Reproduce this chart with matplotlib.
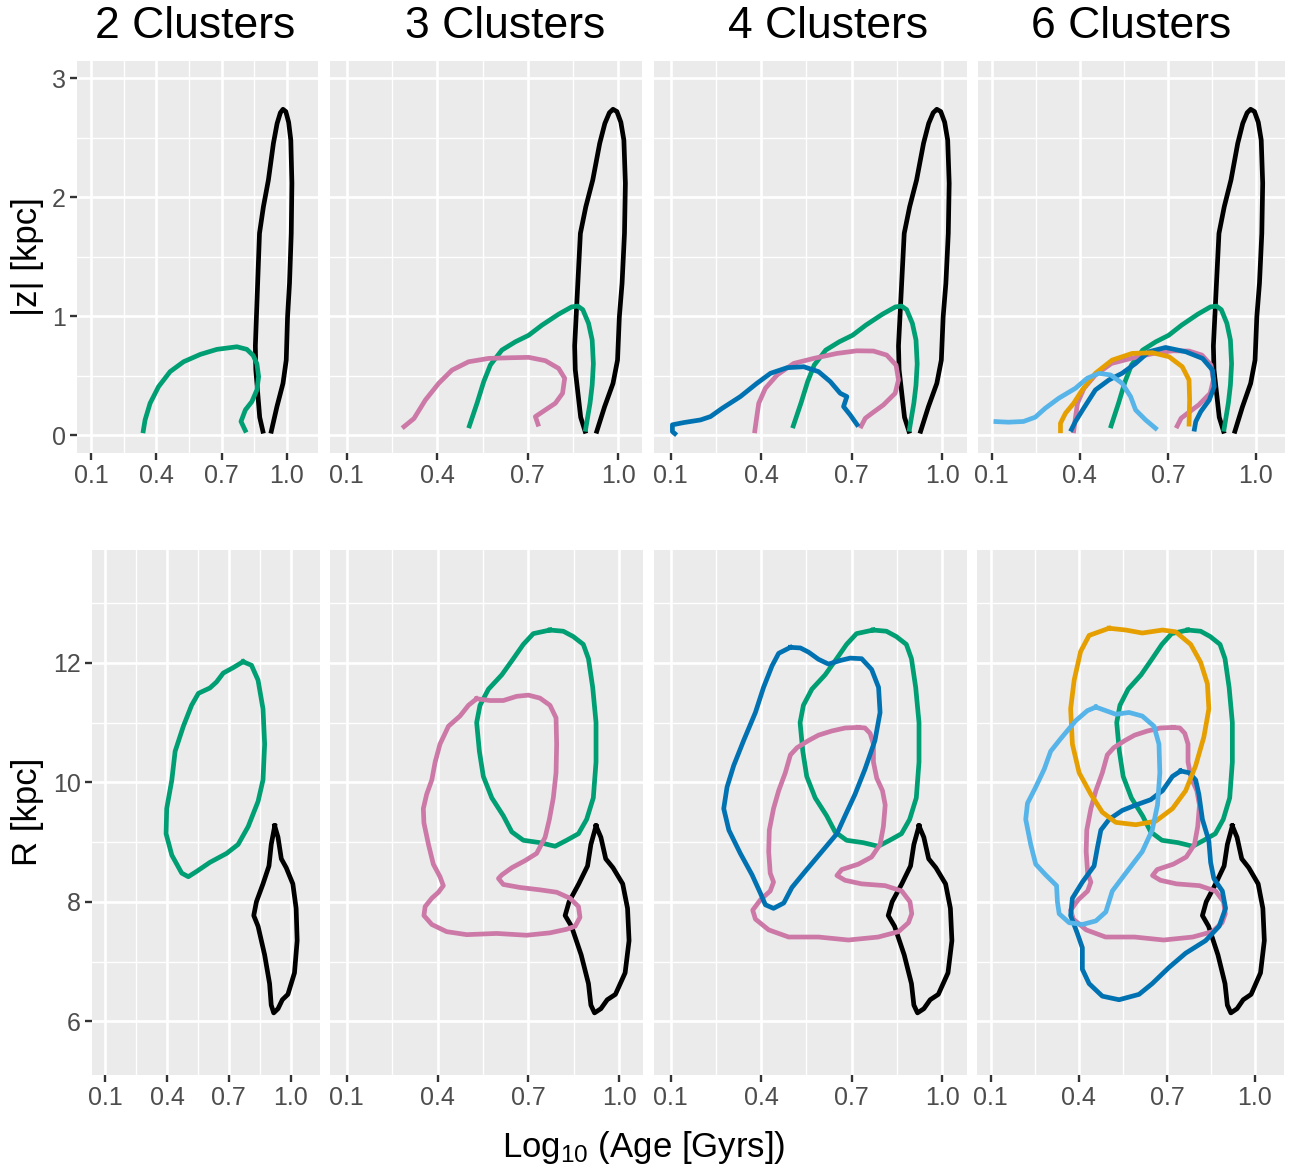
import matplotlib
matplotlib.use('Agg')
import matplotlib.pyplot as plt

plt.rcParams['font.family'] = ['Liberation Sans', 'DejaVu Sans']
plt.rcParams['mathtext.fontset'] = 'custom'
plt.rcParams['mathtext.rm'] = 'Liberation Sans'
plt.rcParams['mathtext.it'] = 'Liberation Sans:italic'

# ---- data: contour outlines, (log10 age, value) ----
titles = ['2 Clusters', '3 Clusters', '4 Clusters', '6 Clusters']
x_ticks = [0.1, 0.4, 0.7, 1.0]
x_tick_labels = ['0.1', '0.4', '0.7', '1.0']
z_ticks = [0, 1, 2, 3]
r_ticks = [6, 8, 10, 12]

colors = {'black': '#000000', 'green': '#009E73', 'pink': '#CC79A7',
          'blue': '#0072B2', 'orange': '#E69F00', 'sky': '#56B4E9'}

# |z| contours (open, cut at z=0)
z_black = [(0.892, 0.014), (0.875, 0.15), (0.866, 0.35), (0.857, 0.55), (0.855, 0.75),
           (0.860, 1.0), (0.866, 1.3), (0.874, 1.696), (0.892, 1.92), (0.915, 2.145),
           (0.938, 2.453), (0.955, 2.62), (0.970, 2.71), (0.982, 2.739), (0.995, 2.72),
           (1.008, 2.63), (1.018, 2.48), (1.023, 2.117), (1.020, 1.696), (1.012, 1.276),
           (1.003, 0.995), (0.997, 0.631), (0.982, 0.435), (0.954, 0.238), (0.926, 0.014)]
z_green_2 = [(0.338, 0.017), (0.348, 0.128), (0.371, 0.268), (0.410, 0.408), (0.463, 0.534),
             (0.525, 0.617), (0.602, 0.679), (0.678, 0.721), (0.770, 0.743), (0.816, 0.721),
             (0.845, 0.67), (0.862, 0.60), (0.870, 0.492), (0.862, 0.38), (0.839, 0.282),
             (0.809, 0.212), (0.789, 0.115), (0.813, 0.022)]
z_green = [(0.504, 0.059), (0.532, 0.27), (0.554, 0.45), (0.576, 0.59), (0.614, 0.715),
           (0.659, 0.785), (0.703, 0.84), (0.747, 0.925), (0.802, 1.017), (0.845, 1.078),
           (0.865, 1.085), (0.882, 1.055), (0.901, 0.94), (0.913, 0.80), (0.917, 0.60),
           (0.913, 0.42), (0.906, 0.27), (0.890, 0.03)]
z_pink_3 = [(0.284, 0.059), (0.323, 0.14), (0.361, 0.296), (0.405, 0.436), (0.449, 0.547),
            (0.504, 0.617), (0.570, 0.645), (0.648, 0.651), (0.703, 0.654), (0.758, 0.626),
            (0.802, 0.561), (0.822, 0.478), (0.815, 0.352), (0.791, 0.268), (0.758, 0.212),
            (0.725, 0.156), (0.736, 0.073)]
z_pink = [(0.378, 0.017), (0.384, 0.128), (0.392, 0.268), (0.414, 0.394), (0.453, 0.506),
          (0.508, 0.603), (0.574, 0.645), (0.651, 0.687), (0.717, 0.709), (0.772, 0.707),
          (0.816, 0.673), (0.847, 0.589), (0.855, 0.464), (0.844, 0.352), (0.805, 0.254),
          (0.767, 0.184), (0.745, 0.142), (0.728, 0.059)]
z_blue_4 = [(0.120, 0.0), (0.106, 0.03), (0.106, 0.087), (0.144, 0.106), (0.199, 0.128),
            (0.232, 0.156), (0.271, 0.226), (0.331, 0.324), (0.386, 0.436), (0.431, 0.520),
            (0.486, 0.567), (0.541, 0.575), (0.590, 0.534), (0.629, 0.450), (0.662, 0.352),
            (0.684, 0.324), (0.673, 0.240), (0.695, 0.170), (0.722, 0.073)]
z_blue = [(0.368, 0.031), (0.385, 0.115), (0.413, 0.226), (0.453, 0.380), (0.499, 0.464),
          (0.544, 0.520), (0.590, 0.603), (0.635, 0.701), (0.692, 0.737), (0.761, 0.701),
          (0.818, 0.645), (0.852, 0.547), (0.858, 0.408), (0.841, 0.296), (0.812, 0.198),
          (0.795, 0.115), (0.789, 0.031)]
z_orange = [(0.334, 0.017), (0.334, 0.100), (0.351, 0.184), (0.379, 0.268), (0.408, 0.380),
            (0.453, 0.520), (0.510, 0.631), (0.578, 0.687), (0.647, 0.693), (0.704, 0.659),
            (0.749, 0.575), (0.772, 0.464), (0.774, 0.296), (0.772, 0.073)]
z_sky = [(0.106, 0.115), (0.157, 0.109), (0.208, 0.115), (0.248, 0.151), (0.282, 0.226),
         (0.328, 0.310), (0.385, 0.394), (0.425, 0.478), (0.465, 0.520), (0.505, 0.506),
         (0.544, 0.436), (0.573, 0.324), (0.590, 0.212), (0.624, 0.128), (0.664, 0.045)]

# R contours (closed)
r_black = [(0.923, 9.27), (0.939, 9.08), (0.955, 8.72), (0.979, 8.57), (1.011, 8.30),
           (1.027, 7.89), (1.032, 7.35), (1.019, 6.81), (0.987, 6.45), (0.960, 6.36),
           (0.939, 6.21), (0.918, 6.14), (0.906, 6.27), (0.898, 6.63), (0.874, 7.11),
           (0.842, 7.59), (0.821, 7.77), (0.834, 8.00), (0.866, 8.30), (0.895, 8.60),
           (0.906, 8.96)]
r_green_2 = [(0.769, 12.02), (0.721, 11.92), (0.673, 11.83), (0.640, 11.68), (0.608, 11.58),
             (0.552, 11.49), (0.519, 11.29), (0.479, 10.94), (0.439, 10.52), (0.423, 10.04),
             (0.398, 9.56), (0.395, 9.14), (0.423, 8.78), (0.471, 8.48), (0.503, 8.42),
             (0.544, 8.51), (0.608, 8.66), (0.689, 8.81), (0.745, 8.96), (0.794, 9.26),
             (0.842, 9.68), (0.866, 10.04), (0.874, 10.64), (0.866, 11.23), (0.842, 11.71),
             (0.810, 11.96)]
r_green = [(0.771, 12.55), (0.716, 12.49), (0.683, 12.31), (0.650, 12.07), (0.612, 11.80),
           (0.568, 11.56), (0.540, 11.29), (0.529, 11.00), (0.538, 10.52), (0.551, 10.10),
           (0.579, 9.74), (0.617, 9.44), (0.645, 9.17), (0.683, 9.03), (0.738, 8.99),
           (0.788, 8.93), (0.826, 9.03), (0.865, 9.14), (0.892, 9.38), (0.914, 9.74),
           (0.923, 10.34), (0.923, 11.00), (0.912, 11.59), (0.898, 12.07), (0.881, 12.31),
           (0.848, 12.44), (0.815, 12.53)]
r_pink_3 = [(0.529, 11.40), (0.573, 11.37), (0.617, 11.37), (0.661, 11.44), (0.700, 11.46),
            (0.738, 11.41), (0.771, 11.29), (0.791, 11.08), (0.793, 10.64), (0.791, 10.16),
            (0.782, 9.74), (0.769, 9.38), (0.755, 9.08), (0.727, 8.81), (0.689, 8.69),
            (0.645, 8.57), (0.612, 8.45), (0.601, 8.39), (0.617, 8.29), (0.672, 8.24),
            (0.738, 8.20), (0.793, 8.16), (0.837, 8.06), (0.865, 7.92), (0.870, 7.74),
            (0.854, 7.59), (0.826, 7.54), (0.771, 7.48), (0.694, 7.44), (0.595, 7.47),
            (0.496, 7.45), (0.430, 7.50), (0.381, 7.62), (0.355, 7.77), (0.359, 7.92),
            (0.381, 8.06), (0.403, 8.16), (0.419, 8.27), (0.408, 8.42), (0.386, 8.63),
            (0.370, 8.96), (0.355, 9.32), (0.353, 9.56), (0.364, 9.80), (0.381, 10.04),
            (0.392, 10.34), (0.408, 10.64), (0.436, 10.94), (0.474, 11.11), (0.502, 11.29)]
r_pink = [(0.722, 10.92), (0.678, 10.91), (0.634, 10.86), (0.590, 10.79), (0.557, 10.70),
          (0.519, 10.58), (0.497, 10.46), (0.480, 10.16), (0.458, 9.86), (0.441, 9.56),
          (0.427, 9.20), (0.425, 8.84), (0.430, 8.48), (0.441, 8.33), (0.430, 8.18),
          (0.397, 8.03), (0.372, 7.86), (0.381, 7.71), (0.425, 7.53), (0.491, 7.41),
          (0.590, 7.41), (0.689, 7.36), (0.788, 7.41), (0.855, 7.50), (0.888, 7.65),
          (0.899, 7.80), (0.893, 8.00), (0.866, 8.18), (0.811, 8.27), (0.733, 8.30),
          (0.678, 8.36), (0.651, 8.44), (0.667, 8.54), (0.722, 8.63), (0.766, 8.75),
          (0.794, 8.96), (0.805, 9.26), (0.811, 9.62), (0.802, 9.86), (0.783, 10.07),
          (0.772, 10.34), (0.772, 10.64), (0.761, 10.82), (0.744, 10.91)]
r_blue_4 = [(0.497, 12.26), (0.458, 12.16), (0.436, 11.95), (0.408, 11.59), (0.381, 11.17),
            (0.342, 10.70), (0.309, 10.28), (0.287, 9.92), (0.276, 9.56), (0.293, 9.20),
            (0.331, 8.81), (0.370, 8.45), (0.397, 8.15), (0.414, 7.95), (0.441, 7.89),
            (0.475, 7.98), (0.502, 8.24), (0.546, 8.51), (0.601, 8.84), (0.651, 9.14),
            (0.678, 9.44), (0.711, 9.80), (0.744, 10.22), (0.777, 10.70), (0.794, 11.17),
            (0.789, 11.59), (0.766, 11.89), (0.733, 12.07), (0.695, 12.08), (0.662, 12.04),
            (0.623, 11.98), (0.590, 12.06), (0.557, 12.18), (0.530, 12.25)]
r_blue = [(0.747, 10.19), (0.719, 10.10), (0.685, 9.86), (0.645, 9.71), (0.594, 9.62),
          (0.548, 9.53), (0.503, 9.38), (0.475, 9.20), (0.463, 8.90), (0.452, 8.60),
          (0.412, 8.33), (0.378, 8.06), (0.372, 7.77), (0.395, 7.47), (0.412, 7.23),
          (0.412, 6.87), (0.435, 6.63), (0.480, 6.42), (0.537, 6.36), (0.605, 6.45),
          (0.650, 6.63), (0.707, 6.90), (0.764, 7.14), (0.832, 7.35), (0.878, 7.59),
          (0.900, 7.89), (0.889, 8.18), (0.860, 8.39), (0.849, 8.66), (0.843, 9.02),
          (0.821, 9.38), (0.809, 9.80), (0.798, 10.04), (0.776, 10.16)]
r_orange = [(0.503, 12.58), (0.435, 12.46), (0.406, 12.19), (0.384, 11.71), (0.372, 11.23),
            (0.378, 10.64), (0.401, 10.16), (0.441, 9.80), (0.480, 9.50), (0.526, 9.33),
            (0.594, 9.29), (0.662, 9.35), (0.719, 9.56), (0.764, 9.86), (0.798, 10.28),
            (0.826, 10.76), (0.843, 11.23), (0.838, 11.65), (0.815, 12.01), (0.781, 12.31),
            (0.730, 12.52), (0.685, 12.55), (0.616, 12.50), (0.560, 12.55)]
r_sky = [(0.458, 11.26), (0.429, 11.20), (0.389, 11.03), (0.338, 10.73), (0.304, 10.52),
         (0.282, 10.22), (0.253, 9.92), (0.225, 9.65), (0.219, 9.38), (0.236, 8.96),
         (0.253, 8.63), (0.287, 8.45), (0.324, 8.27), (0.327, 8.00), (0.333, 7.80),
         (0.367, 7.65), (0.412, 7.62), (0.458, 7.68), (0.492, 7.83), (0.514, 8.18),
         (0.560, 8.48), (0.616, 8.84), (0.650, 9.20), (0.668, 9.62), (0.676, 10.16),
         (0.673, 10.64), (0.656, 10.94), (0.616, 11.11), (0.571, 11.17), (0.526, 11.14),
         (0.492, 11.20)]

top_sets = [
    [('black', z_black), ('green', z_green_2)],
    [('black', z_black), ('green', z_green), ('pink', z_pink_3)],
    [('black', z_black), ('green', z_green), ('pink', z_pink), ('blue', z_blue_4)],
    [('black', z_black), ('green', z_green), ('pink', z_pink), ('blue', z_blue),
     ('orange', z_orange), ('sky', z_sky)],
]
bottom_sets = [
    [('black', r_black), ('green', r_green_2)],
    [('black', r_black), ('green', r_green), ('pink', r_pink_3)],
    [('black', r_black), ('green', r_green), ('pink', r_pink), ('blue', r_blue_4)],
    [('black', r_black), ('green', r_green), ('pink', r_pink), ('blue', r_blue),
     ('orange', r_orange), ('sky', r_sky)],
]

# ---- layout (pixels) ----
W, H = 1293, 1170
top_cols = [(77, 318), (330, 642), (654, 967), (978, 1285)]
bot_cols = [(92, 320), (330, 643), (654, 967), (977, 1284)]
top_rows = (61, 453)
bot_rows = (550, 1075)
xlims = [(0.035, 1.143), (0.045, 1.078), (0.045, 1.082), (0.053, 1.099)]
title_x = [195, 505, 828, 1131]

fig = plt.figure(figsize=(W / 100, H / 100), dpi=100)


def make_ax(x0, x1, y0, y1):
    return fig.add_axes([x0 / W, 1 - y1 / H, (x1 - x0) / W, (y1 - y0) / H])


def style(ax, xlim, ylim, yticks, ylabels, show_y):
    ax.set_facecolor('#EBEBEB')
    for s in ax.spines.values():
        s.set_visible(False)
    ax.set_xticks(x_ticks)
    ax.set_xticklabels(x_tick_labels)
    ax.set_xticks([0.25, 0.55, 0.85], minor=True)
    step = yticks[1] - yticks[0]
    ax.set_yticks(yticks)
    ax.set_yticks([t + step / 2 for t in yticks], minor=True)
    # limits after the ticks, so the minor ticks do not widen the view
    ax.set_xlim(*xlim)
    ax.set_ylim(*ylim)
    ax.grid(which='major', color='white', lw=1.9)
    ax.grid(which='minor', color='white', lw=1.0)
    ax.set_axisbelow(True)
    ax.tick_params(which='major', length=5, width=1.7, color='#333333',
                   labelsize=18, labelcolor='#4D4D4D', pad=3)
    ax.tick_params(which='minor', length=0)
    if show_y:
        ax.set_yticklabels(ylabels)
    else:
        ax.tick_params(axis='y', which='major', length=0, labelleft=False)


LW = 3.4

for i in range(4):
    ax = make_ax(top_cols[i][0], top_cols[i][1], *top_rows)
    style(ax, xlims[i], (-0.15, 3.145), z_ticks, [str(t) for t in z_ticks], i == 0)
    for name, pts in top_sets[i]:
        xs = [p[0] for p in pts]
        ys = [p[1] for p in pts]
        ax.plot(xs, ys, color=colors[name], lw=LW, solid_joinstyle='round',
                solid_capstyle='butt')
    fig.text(title_x[i] / W, 1 - 27 / H, titles[i], ha='center', va='center',
             fontsize=32, color='black')

    ax = make_ax(bot_cols[i][0], bot_cols[i][1], *bot_rows)
    style(ax, xlims[i], (5.10, 13.89), r_ticks, [str(t) for t in r_ticks], i == 0)
    for name, pts in bottom_sets[i]:
        xs = [p[0] for p in pts] + [pts[0][0]]
        ys = [p[1] for p in pts] + [pts[0][1]]
        ax.plot(xs, ys, color=colors[name], lw=LW, solid_joinstyle='round')

fig.text(28 / W, 1 - 257 / H, '|z| [kpc]', rotation=90, ha='center', va='center',
         fontsize=25)
fig.text(28 / W, 1 - 812 / H, 'R [kpc]', rotation=90, ha='center', va='center',
         fontsize=25)
fig.text(644 / W, 1 - 1148 / H, r'Log$_{10}$ (Age [Gyrs])', ha='center', va='center',
         fontsize=25)

fig.savefig('out.png', dpi=100)
